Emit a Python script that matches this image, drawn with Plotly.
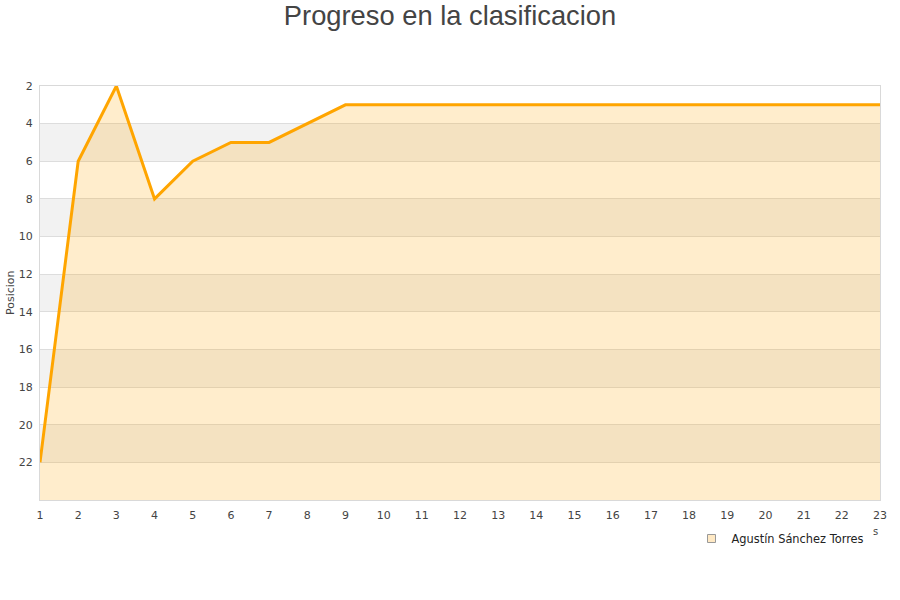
import plotly.graph_objects as go

jornadas = list(range(1, 24))
posiciones = [22, 6, 2, 8, 6, 5, 5, 4, 3, 3, 3, 3, 3, 3, 3, 3, 3, 3, 3, 3, 3, 3, 3]
y_ticks = [2, 4, 6, 8, 10, 12, 14, 16, 18, 20, 22]
band_starts = [4, 8, 12, 16, 20]
serie = "Agustín Sánchez Torres"
y_bottom = 24
y_top = 2

fig = go.Figure()

# invisible baseline at bottom of axis for the area fill
fig.add_trace(go.Scatter(x=jornadas, y=[y_bottom] * len(jornadas), mode="lines",
                         line=dict(width=0), showlegend=False, hoverinfo="skip"))
fig.add_trace(go.Scatter(x=jornadas, y=posiciones, mode="lines",
                         line=dict(color="#ffa500", width=3),
                         fill="tonexty", fillcolor="rgba(255,165,0,0.2)",
                         showlegend=False, name=serie))
# legend entry
fig.add_trace(go.Scatter(x=[None], y=[None], mode="markers", name=serie,
                         marker=dict(symbol="square", size=8,
                                     color="#ffe9c4",
                                     line=dict(color="#999999", width=1))))

for b in band_starts:
    fig.add_shape(type="rect", xref="paper", yref="y", x0=0, x1=1, y0=b, y1=b + 2,
                  fillcolor="#f2f2f2", line_width=0, layer="below")

fig.add_annotation(text="s", xref="paper", yref="paper", x=0.9945, y=-0.075,
                   showarrow=False, font=dict(family="DejaVu Sans", size=10, color="#444"),
                   xanchor="center", yanchor="middle")
fig.add_annotation(text="Posicion", xref="paper", yref="paper", x=-0.0357, y=0.5,
                   textangle=-90, showarrow=False,
                   font=dict(family="DejaVu Sans", size=11, color="#444"),
                   xanchor="center", yanchor="middle")

fig.update_layout(
    width=900, height=600,
    paper_bgcolor="white", plot_bgcolor="white",
    margin=dict(l=40, r=20, t=86, b=100, autoexpand=False),
    title=dict(text="Progreso en la clasificacion", x=0.5, xanchor="center",
               y=0.975, yanchor="middle",
               font=dict(family="Liberation Sans, Arial", size=27.3, color="#444")),
    font=dict(family="DejaVu Sans", size=11, color="#444"),
    xaxis=dict(range=[1, 23], tickmode="array", tickvals=jornadas, showgrid=False,
               zeroline=False, showline=True, linecolor="#d9d9d9", linewidth=1, mirror=True,
               ticks="", automargin=False, ticklabelstandoff=5,
               tickfont=dict(size=11, color="#444")),
    yaxis=dict(range=[y_bottom, y_top], tickmode="array", tickvals=y_ticks,
               showgrid=True, gridcolor="#dddddd", gridwidth=1, zeroline=False,
               showline=True, linecolor="#d9d9d9", linewidth=1, mirror=True,
               ticks="", automargin=False, ticklabelstandoff=4,
               tickfont=dict(size=11, color="#444")),
    legend=dict(x=0.9875, y=-0.058, xanchor="right", yanchor="top",
                font=dict(family="DejaVu Sans", size=11.4, color="#222"),
                bgcolor="rgba(0,0,0,0)"),
    showlegend=True,
)

fig.write_html("out.html", config={"displayModeBar": False},
               post_script="document.body.style.margin='0';")
